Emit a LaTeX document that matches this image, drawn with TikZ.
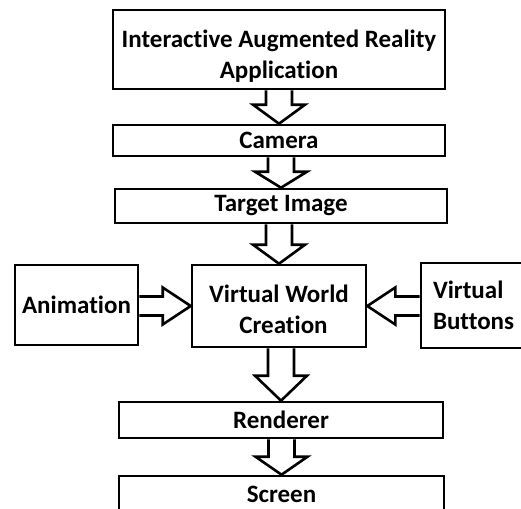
\documentclass[tikz,border=0pt]{standalone}
\usepackage{fontspec}
\setmainfont[Ligatures=NoCommon]{Carlito}
\usetikzlibrary{calc}

\tikzset{
  blk/.style={draw, line width=2.6pt, minimum width=#1, inner sep=0pt, align=center,
              font=\fontsize{25}{31}\selectfont\bfseries},
  blk/.default=332pt,
  hollow/.style={draw, line width=2.6pt, fill=white, line join=miter}
}

% hollow block arrow pointing down, from the bottom of #1 to the top of #2
% #3 = length of the head
\newcommand\downarrowblk[3]{%
  \draw[hollow] let \p1=(#1.south), \p2=(#2.north) in
    (\x2-13pt,\y1) -- (\x2-13pt,\y2+#3) -- (\x2-26pt,\y2+#3) -- (\x2,\y2)
    -- (\x2+26pt,\y2+#3) -- (\x2+13pt,\y2+#3) -- (\x2+13pt,\y1);
}

\begin{document}
\begin{tikzpicture}[x=1pt,y=-1pt]
  \useasboundingbox (0,0) rectangle (521,508);
  \clip (0,0) rectangle (521,508);

  \node[blk, minimum height=79pt] (app) at (279,49.5)
    {\rule{0pt}{30pt}Interactive Augmented Reality\\Application};
  \node[blk, minimum height=31pt] (cam) at (279,140.5) {Camera};
  \node[blk, minimum height=34pt] (tgt) at (281,206) {Target Image};
  \node[blk=174pt, minimum height=82pt] (vwc) at (279,306)
    {\rule{0pt}{25pt}Virtual World\\\hspace*{9pt}Creation};
  \node[blk=123pt, minimum height=80pt] (anim) at (76.5,305) {Animation};
  \node[blk=120pt, minimum height=85pt, align=left, text width=96pt] (btn) at (481,305.5)
    {Virtual\\Buttons};
  \node[blk=324pt, minimum height=36pt] (rend) at (281,420) {Renderer};
  \node[blk=325pt, minimum height=54pt, text depth=18pt] (scr) at (281.5,503) {Screen};

  \downarrowblk{app}{cam}{19pt}
  \downarrowblk{cam}{tgt}{16pt}
  \downarrowblk{tgt}{vwc}{19pt}
  \downarrowblk{vwc}{rend}{25pt}
  \downarrowblk{rend}{scr}{18pt}

  % rightwards from Animation
  \draw[hollow] let \p1=(anim.east), \p2=(vwc.west) in
    (\x1,\y2+9.5pt) -- (\x2-28pt,\y2+9.5pt) -- (\x2-28pt,\y2+18.5pt) -- (\x2,\y2)
    -- (\x2-28pt,\y2-18.5pt) -- (\x2-28pt,\y2-9.5pt) -- (\x1,\y2-9.5pt);
  % leftwards from the virtual buttons
  \draw[hollow] let \p1=(btn.west), \p2=(vwc.east) in
    (\x1,\y2+9.5pt) -- (\x2+28pt,\y2+9.5pt) -- (\x2+28pt,\y2+18.5pt) -- (\x2,\y2)
    -- (\x2+28pt,\y2-18.5pt) -- (\x2+28pt,\y2-9.5pt) -- (\x1,\y2-9.5pt);
\end{tikzpicture}
\end{document}
